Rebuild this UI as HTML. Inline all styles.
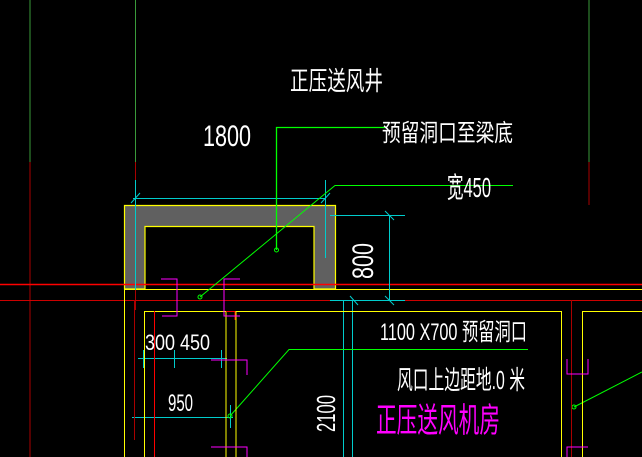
<!DOCTYPE html>
<html><head><meta charset="utf-8"><style>body{margin:0;background:#000}svg{display:block}</style></head><body>
<svg width="642" height="457" viewBox="0 0 642 457" xmlns="http://www.w3.org/2000/svg" font-family="Liberation Sans, Noto Sans CJK SC, sans-serif">
<rect width="642" height="457" fill="#000"/>
<!-- grid lines top -->
<line x1="30" y1="0" x2="30" y2="162" stroke="#3a9a3a"/>
<line x1="30" y1="162" x2="30" y2="457" stroke="#a00"/>
<line x1="135.5" y1="0" x2="135.5" y2="162" stroke="#3a9a3a"/>
<line x1="135.5" y1="162" x2="135.5" y2="310" stroke="#a00"/>
<line x1="589" y1="0" x2="589" y2="162" stroke="#3a9a3a"/>
<line x1="589" y1="162" x2="589" y2="205" stroke="#a00"/>
<!-- grey shaft -->
<path d="M124.5 205.5H335.5V289H314V226.5H145V289H124.5Z" fill="#606060" stroke="#ff0" stroke-width="1.2"/>
<line x1="0" y1="284.5" x2="642" y2="284.5" stroke="#f00" stroke-width="1.5"/>
<line x1="124" y1="289.5" x2="642" y2="289.5" stroke="#ff0"/>
<line x1="0" y1="300.5" x2="642" y2="300.5" stroke="#c00"/>
<!-- dimension 1800 -->
<g stroke="#0cc" stroke-width="1">
<line x1="135.5" y1="180" x2="135.5" y2="290"/>
<line x1="325.5" y1="180" x2="325.5" y2="258"/>
<line x1="133" y1="198.5" x2="326" y2="198.5"/>
<line x1="131" y1="203" x2="140" y2="193"/>
<line x1="321" y1="203" x2="330" y2="193"/>
<!-- 800 -->
<line x1="330" y1="215.5" x2="405" y2="215.5"/>
<line x1="330" y1="300.5" x2="405" y2="300.5"/>
<line x1="389.5" y1="215" x2="389.5" y2="300"/>
<line x1="385" y1="211" x2="394" y2="220"/>
<line x1="385" y1="296" x2="394" y2="305"/>
<line x1="350" y1="296" x2="358" y2="305"/>
<line x1="352.5" y1="300" x2="352.5" y2="457"/>
<line x1="343.5" y1="300" x2="343.5" y2="457"/>
<!-- 300 450 -->
<line x1="138" y1="358.5" x2="227" y2="358.5"/>
<line x1="143.5" y1="350" x2="143.5" y2="368"/>
<line x1="174.5" y1="350" x2="174.5" y2="368"/>
<line x1="221.5" y1="350" x2="221.5" y2="368"/>
<!-- 950 -->
<line x1="132" y1="417.5" x2="233" y2="417.5"/>
<line x1="134.5" y1="405" x2="134.5" y2="428"/>
<line x1="230.5" y1="405" x2="230.5" y2="428"/>
</g>
<!-- green leaders -->
<g stroke="#0f0" fill="none">
<polyline points="276.5,250 276.5,127.5 387,127.5" stroke-width="1.3"/>
<circle cx="276.5" cy="250" r="2"/>
<polyline points="200,297 335,185.5 513,185.5" stroke-width="1"/>
<circle cx="200" cy="297" r="2"/>
<polyline points="230,416 289,349.5 528,349.5"/>
<circle cx="230" cy="416" r="2"/>
<line x1="574" y1="407" x2="642" y2="372"/>
<circle cx="574" cy="407" r="2"/>
</g>
<!-- lower structure -->
<g stroke="#ff0" fill="none">
<line x1="124.5" y1="289" x2="124.5" y2="457"/>
<polyline points="144.5,457 144.5,311.5 561.5,311.5 561.5,457"/>
<line x1="226" y1="311" x2="226" y2="457"/>
<line x1="236" y1="311" x2="236" y2="457"/>
<polyline points="582.5,457 582.5,311.5 642,311.5"/>
</g>
<g stroke="#f00" fill="none">
<line x1="154.5" y1="311" x2="154.5" y2="457"/>
<line x1="235" y1="311" x2="235" y2="320"/>
<line x1="226" y1="311.5" x2="235" y2="311.5"/>
</g>
<line x1="571.5" y1="300" x2="571.5" y2="457" stroke="#a00"/>
<line x1="134.5" y1="300" x2="134.5" y2="440" stroke="#a00"/>
<g stroke="#f0f" fill="none">
<polyline points="161,279 177,279 177,316 162,316"/>
<polyline points="240,279 224,279 224,316 240,316"/>
<polyline points="211,360 247,360 247,375"/>
<polyline points="567,359 567,374 588,374 588,359"/>
<polyline points="211,447 247,447 247,457"/>
<polyline points="567,457 567,447 588,447"/>
</g>
<!-- text -->
<g fill="#fff" font-size="24">
<text x="290" y="90" font-size="26" textLength="93" lengthAdjust="spacingAndGlyphs">正压送风井</text>
<text x="382" y="141" font-size="24" textLength="131" lengthAdjust="spacingAndGlyphs">预留洞口至梁底</text>
<text x="203" y="146" font-size="30" textLength="48" lengthAdjust="spacingAndGlyphs">1800</text>
<text x="447" y="197" font-size="28" textLength="44" lengthAdjust="spacingAndGlyphs">宽450</text>
<text transform="translate(373,279) rotate(-90)" font-size="30" textLength="36" lengthAdjust="spacingAndGlyphs">800</text>
<text x="380" y="340" font-size="24" textLength="147" lengthAdjust="spacingAndGlyphs">1100  X700  预留洞口</text>
<text x="397" y="389" font-size="26" textLength="128" lengthAdjust="spacingAndGlyphs">风口上边距地.0  米</text>
<text x="376" y="432" font-size="34" fill="#f0f" textLength="124" lengthAdjust="spacingAndGlyphs">正压送风机房</text>
<text transform="translate(335,432) rotate(-90)" font-size="26" textLength="37" lengthAdjust="spacingAndGlyphs">2100</text>
<text x="145" y="350" font-size="22" textLength="65" lengthAdjust="spacingAndGlyphs">300  450</text>
<text x="168" y="411" font-size="24" textLength="25" lengthAdjust="spacingAndGlyphs">950</text>
</g>
</svg>
</body></html>
